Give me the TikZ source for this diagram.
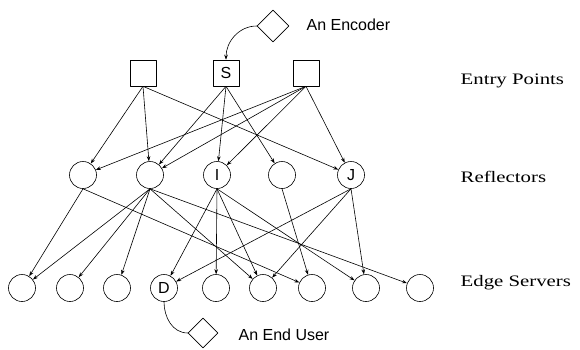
\documentclass[tikz,border=0pt]{standalone}
\usepackage{fontspec}
\newfontfamily\helv{Liberation Sans}
\newfontfamily\tms[FakeStretch=1.3]{Liberation Serif}
\usetikzlibrary{shapes.geometric,arrows.meta}

\begin{document}
\begin{tikzpicture}[x=1pt,y=1pt,line cap=round,line join=round,line width=0.6pt,
  every node/.style={font=\helv\fontsize{16}{18}\selectfont},
  entrybox/.style={draw,minimum size=26pt,inner sep=0pt},
  reflector/.style={draw,circle,minimum size=27pt,inner sep=0pt},
  server/.style={draw,circle,minimum size=27pt,inner sep=0pt},
  endpoint/.style={draw,diamond,minimum size=32pt,inner sep=0pt},
  tierlabel/.style={anchor=west,font=\tms\fontsize{16}{18}\selectfont},
  feed/.style={-{Stealth[length=5pt,width=3.6pt]}}]
\useasboundingbox (0,0) rectangle (580,349);

% encoder on top
\node[endpoint] (enc) at (273,323) {};
\node[anchor=west] (enclab) at (303,324) {An Encoder};

% entry points
\node[entrybox] (ep1) at (143,276) {};
\node[entrybox] (S)   at (226,276) {S};
\node[entrybox] (ep3) at (306,276) {};

% reflectors
\node[reflector] (r1) at (83,174)  {};
\node[reflector] (r2) at (150,174) {};
\node[reflector] (I)  at (217,174) {I};
\node[reflector] (r4) at (282,174) {};
\node[reflector] (J)  at (351,174) {J};

% edge servers
\node[server] (es1) at (22,61)  {};
\node[server] (es2) at (70,61)  {};
\node[server] (es3) at (117,61) {};
\node[server] (D)   at (164,61) {D};
\node[server] (es5) at (216,61) {};
\node[server] (es6) at (263,61) {};
\node[server] (es7) at (312,61) {};
\node[server] (es8) at (366,61) {};
\node[server] (es9) at (420,61) {};

% end user
\node[endpoint,minimum size=30pt] (usr) at (203,16) {};
\node[anchor=west] (usrlab) at (235,14) {An End User};

% tier names
\node[tierlabel] (tep) at (457,268) {Entry Points};
\node[tierlabel] (trf) at (457,172) {Reflectors};
\node[tierlabel] (tes) at (457,66)  {Edge Servers};

% stream into the source entry point
\draw[feed] (enc.west) to[out=180,in=90] (S.north);

% entry points -> reflectors
\draw[feed] (ep1.south) -- (r1);
\draw[feed] (ep1.south) -- (r2);
\draw[feed] (ep1.south) -- (J);
\draw[feed] (S.south) -- (r2);
\draw[feed] (S.south) -- (I);
\draw[feed] (S.south) -- (r4);
\draw[feed] (ep3.south) -- (r1);
\draw[feed] (ep3.south) -- (r2);
\draw[feed] (ep3.south) -- (I);
\draw[feed] (ep3.south) -- (J);

% reflectors -> edge servers
\draw[feed] (r1.south) -- (es1);
\draw[feed] (r1.south) -- (es7);
\draw[feed] (r2.south) -- (es1);
\draw[feed] (r2.south) -- (es2);
\draw[feed] (r2.south) -- (es3);
\draw[feed] (r2.south) -- (es6);
\draw[feed] (r2.south) -- (es9);
\draw[feed] (I.south) -- (D);
\draw[feed] (I.south) -- (es5);
\draw[feed] (I.south) -- (es6);
\draw[feed] (I.south) -- (es8);
\draw[feed] (r4.south) -- (es7);
\draw[feed] (J.south) -- (D);
\draw[feed] (J.south) -- (es6);
\draw[feed] (J.south) -- (es8);

% edge server to the end user
\draw (D.south) to[out=-90,in=180] (usr.west);

\end{tikzpicture}
\end{document}
